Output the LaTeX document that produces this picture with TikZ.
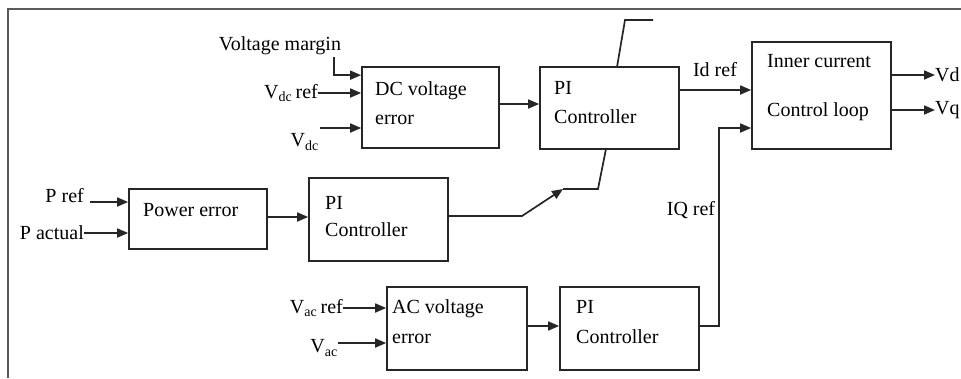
\documentclass[tikz,border=0pt]{standalone}
\usepackage{fontspec}
\setmainfont{Liberation Serif}
\usetikzlibrary{arrows.meta,calc}
\definecolor{linec}{HTML}{262626}
\definecolor{framec}{HTML}{5A5A5A}
\begin{document}
\begin{tikzpicture}[x=1pt,y=-1pt,
  box/.style={draw=linec, line width=1.7pt, inner sep=0pt},
  txt/.style={inner sep=0pt, font=\fontsize{20}{29}\selectfont, align=left, text=black},
  arr/.style={draw=linec, line width=1.7pt, -{Triangle[length=11pt,width=9pt]}},
  ln/.style={draw=linec, line width=1.7pt}]
\fill[white] (0,0) rectangle (961,378);
\useasboundingbox (0,0) rectangle (961,378);
% frame
\draw[line width=1.5pt, draw=framec] (8,378) -- (8,9) -- (961,9);

% boxes
\node[box, minimum width=137pt, minimum height=81pt] (dc) at (430.5,107.5) {};
\node[box, minimum width=139pt, minimum height=82pt] (pi1) at (609.5,108) {};
\node[box, minimum width=139pt, minimum height=107pt] (inner) at (821.5,95.5) {};
\node[box, minimum width=138pt, minimum height=60pt] (perr) at (198,219) {};
\node[box, minimum width=139pt, minimum height=83pt] (pi2) at (378.5,219.5) {};
\node[box, minimum width=140pt, minimum height=83pt] (ac) at (457,328.5) {};
\node[box, minimum width=139pt, minimum height=83pt] (pi3) at (629.5,328.5) {};

% box texts
\node[txt, anchor=west] (tdc) at (375,103) {DC voltage\\error};
\node[txt, anchor=west] (tpi1) at (554,103) {PI\\Controller};
\node[txt, anchor=west, font=\fontsize{20}{49}\selectfont] (tinner) at (767,88) {Inner current\\Control loop};
\node[txt, anchor=west] (tperr) at (143,210) {Power error};
\node[txt, anchor=west, font=\fontsize{20}{27}\selectfont] (tpi2) at (325,217) {PI\\Controller};
\node[txt, anchor=west, font=\fontsize{20}{30}\selectfont] (tac) at (392,322) {AC voltage\\error};
\node[txt, anchor=west, font=\fontsize{20}{30}\selectfont] (tpi3) at (576,322) {PI\\Controller};

% input labels
\node[txt] (vm) at (280,46) {Voltage margin};
\node[txt, anchor=east] (vdcref) at (318,93) {V\textsubscript{dc}\,ref};
\node[txt, anchor=east] (vdc) at (319,142) {V\textsubscript{dc}};
\node[txt, anchor=east] (pref) at (84,196) {P ref};
\node[txt, anchor=east] (pact) at (84,233) {P actual};
\node[txt, anchor=east] (vacref) at (343,308) {V\textsubscript{ac}\,ref};
\node[txt, anchor=east] (vac) at (338,348) {V\textsubscript{ac}};
\node[txt] (idref) at (715,70) {Id ref};
\node[txt] (iqref) at (691,210) {IQ ref};
\node[txt, anchor=west] (vd) at (935,75) {Vd};
\node[txt, anchor=west] (vq) at (935,110) {Vq};

% coordinates
\coordinate (vmin) at ([yshift=-9pt]dc.north west);
\coordinate (vdca) at (320,128);
\coordinate (prefa) at (90,202);
\coordinate (vaca) at (338,343);
\coordinate (perrout) at ([yshift=2pt]perr.east);
\coordinate (dcout) at ([yshift=3.5pt]dc.east);
\coordinate (idout) at ([yshift=18pt]pi1.east);
\coordinate (iqin) at ([yshift=-32.5pt]inner.west);
\coordinate (pi2out) at ([yshift=3.5pt]pi2.east);
\coordinate (acout) at ([yshift=2.5pt]ac.east);
\coordinate (pi3out) at ([yshift=2.5pt]pi3.east);
\coordinate (sw1) at (522,216);
\coordinate (sw2) at (563,189);
\coordinate (sw3) at (598,189);
\coordinate (sw4) at (606,149);
\coordinate (sw5) at (617,67);
\coordinate (sw6) at (625,20);
\coordinate (sw7) at (653,20);

% connectors
\draw[arr] (334,57) |- (vmin);
\draw[arr] (vdcref.east) -- (vdcref.east -| dc.west);
\draw[arr] (vdca) -- (vdca -| dc.west);
\draw[arr] (dcout) -- (dcout -| pi1.west);
\draw[arr] (idout) -- (idout -| inner.west);
\draw[arr] (inner.east |- vd.west) -- (vd.west);
\draw[arr] (inner.east |- vq.west) -- (vq.west);
\draw[arr] (prefa) -- (prefa -| perr.west);
\draw[arr] (pact.east) -- (pact.east -| perr.west);
\draw[arr] (perrout) -- (perrout -| pi2.west);
\draw[arr] (pi2out) -- (sw1) -- (sw2);
\draw[ln] (sw2) -- (sw3) -- (sw4);
\draw[ln] (sw5) -- (sw6) -- (sw7);
\draw[arr] (vacref.east) -- (vacref.east -| ac.west);
\draw[arr] (vaca) -- (vaca -| ac.west);
\draw[arr] (acout) -- (acout -| pi3.west);
\draw[arr] (pi3out) -- ++(19,0) |- (iqin);
\end{tikzpicture}
\end{document}
